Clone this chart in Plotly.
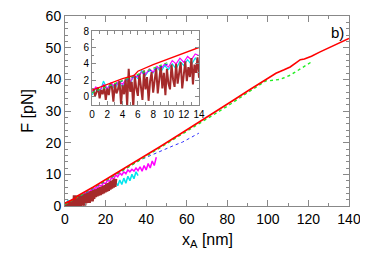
import plotly.graph_objects as go

# ---------------- data ----------------
red_x = [0, 2, 4, 5.5, 6, 8, 10, 12, 14, 20, 30, 37, 47, 57, 66, 75, 83, 91, 99,
         104, 108, 111, 114, 116, 118, 120, 121.5, 125.5, 130.5, 135.5, 140]
red_y = [0.8, 1.5, 2.2, 2.6, 3.1, 3.9, 4.6, 5.3, 6.0, 8.3, 12.2, 14.8, 18.8, 22.8, 26.4,
         30.1, 33.4, 36.7, 40.0, 41.9, 43.0, 43.9, 45.3, 46.2, 46.4, 46.8, 47.3, 48.6,
         50.1, 51.4, 52.9]

green_x = [0, 10, 20, 30, 40, 50, 60, 70, 80, 90, 99, 101, 103, 106, 108, 111, 113,
           116, 119, 121.5]
green_y = [0.5, 4.2, 8.0, 11.8, 15.7, 19.6, 23.5, 27.5, 31.5, 35.8, 39.5, 39.6, 39.7,
           40.0, 40.5, 41.3, 42.1, 43.4, 44.5, 45.5]

blue_x = [0, 10, 20, 30, 37, 42, 46, 50, 54, 58, 62, 64, 66]
blue_y = [0.5, 4.0, 7.9, 11.8, 14.5, 15.9, 17.0, 18.3, 19.2, 20.2, 21.6, 22.3, 23.0]

magenta_x = [0, 0.5, 1, 1.5, 2, 2.5, 3, 3.5, 4, 4.5, 5, 5.5, 6, 6.5, 7, 7.5, 8, 8.5,
             9, 9.5, 10, 10.5, 11, 11.5, 12, 12.5, 13, 13.5,
             14, 15, 16, 17, 18, 19, 20, 21, 22, 23, 24, 25, 26, 27, 28, 29, 30, 31,
             32, 33, 34, 35, 36, 37, 38, 39, 40, 41, 42, 43, 44, 45]
magenta_y = [0.5, 1.2, 0.7, 1.5, 1.0, 1.7, 1.2, 1.9, 1.5, 2.2, 1.8, 2.6, 2.4, 3.0, 2.7,
             3.4, 3.0, 3.7, 3.3, 4.0, 3.6, 4.4, 4.0, 4.7, 4.2, 4.9, 4.5, 5.2,
             5.0, 5.8, 5.6, 6.6, 6.3, 7.4, 7.0, 8.2, 7.8, 9.0, 8.5, 9.8, 9.2, 10.4, 9.8,
             10.8, 10.2, 11.4, 10.8, 11.6, 11.0, 12.0, 11.2, 12.4, 11.0, 12.8, 11.4, 13.4,
             12.0, 14.2, 12.8, 15.4]

cyan_x = [0, 0.5, 1, 1.5, 2, 2.5, 3, 3.5, 4, 4.5, 5, 5.5, 6, 6.5, 7, 7.5, 8, 8.5, 9,
          9.5, 10, 10.5, 11, 11.5, 12, 12.5, 13, 13.5,
          14, 15, 16, 17, 18, 19, 20, 21, 22, 23, 24, 25, 26, 27, 28, 29, 30, 31, 32,
          33, 34, 35, 36]
cyan_y = [0.2, 1.0, 0.4, 1.9, 0.9, 1.5, 1.0, 1.8, 1.2, 2.0, 1.6, 2.6, 2.2, 3.2, 2.6,
          3.3, 2.9, 3.6, 3.0, 3.8, 3.3, 4.0, 3.4, 4.3, 3.8, 4.5, 3.9, 4.7,
          4.2, 5.0, 4.6, 5.5, 5.0, 6.0, 5.4, 6.6, 5.8, 7.0, 6.2, 7.6, 6.4, 8.2, 6.8,
          8.8, 7.2, 9.4, 8.0, 10.0, 8.6, 10.8, 9.6]

brown_x = [0.2, 0.4, 0.6, 0.8, 1.0, 1.2, 1.4, 1.6, 1.8, 2.0,
           2.2, 2.4, 2.6, 2.8, 3.0, 3.2, 3.4, 3.6, 3.8, 4.0,
           4.2, 4.4, 4.6, 4.8, 5.0, 5.2, 5.4, 5.6, 5.8, 6.0,
           6.2, 6.4, 6.6, 6.8, 7.0, 7.2, 7.4, 7.6, 7.8, 8.0,
           8.2, 8.4, 8.6, 8.8, 9.0, 9.2, 9.4, 9.6, 9.8, 10.0,
           10.2, 10.4, 10.6, 10.8, 11.0, 11.2, 11.4, 11.6, 11.8, 12.0,
           12.2, 12.4, 12.6, 12.8, 13.0, 13.2, 13.4, 13.6, 13.8, 14.0,
           14.4, 14.8, 15.2, 15.6, 16.0, 16.4, 16.8, 17.2, 17.6, 18.0,
           18.4, 18.8, 19.2, 19.6, 20.0, 20.4, 20.8, 21.2, 21.6, 22.0,
           22.4, 22.8, 23.2, 23.6, 24.0, 24.4, 24.8]
brown_y = [0.9, 0.1, 0.6, 1.1, -0.2, 0.8, 0.3, 1.3, -0.4, 1.0,
           0.2, 1.5, 1.2, -0.6, 1.6, 0.4, 0.9, 1.9, -0.9, 1.4,
           0.3, 2.2, -1.1, 3.4, 0.6, 1.8, -1.3, 2.5, 1.0, 0.1,
           2.8, 1.4, -0.4, 3.2, 0.9, 2.4, -0.5, 1.9, 3.0, 0.5,
           2.2, 3.5, 0.4, 1.8, 3.8, 1.0, 2.9, 0.2, 3.4, 1.6,
           0.9, 3.9, 2.1, 1.2, 4.0, 1.6, 3.2, 4.2, 1.0, 2.8,
           4.3, 1.9, 3.6, 2.4, 4.7, 1.5, 3.9, 2.9, 4.8, 2.3,
           5.0, 2.8, 5.2, 3.1, 5.4, 3.3, 5.6, 3.5, 5.9, 3.8,
           6.1, 4.0, 6.4, 4.3, 6.6, 4.6, 7.0, 4.8, 7.2, 5.2,
           7.6, 5.5, 7.9, 5.8, 8.3, 6.1, 8.6]

main_xticks = [0, 20, 40, 60, 80, 100, 120, 140]
main_yticks = [0, 10, 20, 30, 40, 50, 60]
inset_xticks = [0, 2, 4, 6, 8, 10, 12, 14]
inset_yticks = [0, 2, 4, 6, 8]

# ---------------- figure ----------------
fig = go.Figure()

series = [
    (cyan_x, cyan_y, "#00e5ee", None),
    (magenta_x, magenta_y, "#ff00ff", None),
    (brown_x, brown_y, "#a52a2a", None),
    (blue_x, blue_y, "#2f2fff", "dot"),
    (green_x, green_y, "#22ee22", "dot"),
    (red_x, red_y, "#ff0000", None),
]
main_width = {"#a52a2a": 4.0, "#00e5ee": 1.5, "#ff00ff": 1.5, "#2f2fff": 1.0,
              "#22ee22": 1.4, "#ff0000": 1.6}
inset_width = {"#a52a2a": 2.0, "#00e5ee": 1.2, "#ff00ff": 1.2, "#2f2fff": 1.0,
               "#22ee22": 1.2, "#ff0000": 1.3}

for xs, ys, col, dash in series:
    fig.add_trace(go.Scatter(x=xs, y=ys, mode="lines",
                             line=dict(color=col, width=main_width[col], dash=dash),
                             xaxis="x", yaxis="y", showlegend=False))

for xs, ys, col, dash in series:
    px = [a for a in xs if a <= 14.3]
    py = [b for a, b in zip(xs, ys) if a <= 14.3]
    fig.add_trace(go.Scatter(x=px, y=py, mode="lines",
                             line=dict(color=col, width=inset_width[col], dash=dash),
                             xaxis="x2", yaxis="y2", showlegend=False))

axis_col = "#888888"
fam = "Liberation Sans, Arial, sans-serif"
font_main = dict(family=fam, size=14, color="black")
font_inset = dict(family=fam, size=10, color="black")

common = dict(ticks="inside", tickcolor=axis_col, showline=True, linecolor=axis_col,
              linewidth=1, mirror="ticks", showgrid=False, zeroline=False,
              automargin=False, ticklabeloverflow="allow")

# the page body keeps its default 8px margin, so the figure is sized to fit inside it
fig.update_layout(
    width=354, height=242,
    margin=dict(l=57, r=13, t=8, b=44, autoexpand=False),
    paper_bgcolor="white", plot_bgcolor="white",
    font=font_main,
    xaxis=dict(range=[0, 140], tickvals=main_xticks, ticklen=6, tickfont=font_main,
               minor=dict(dtick=10, ticks="inside", ticklen=3, tickcolor=axis_col),
               **common),
    yaxis=dict(range=[0, 60], tickvals=main_yticks, ticklen=6, tickfont=font_main,
               minor=dict(dtick=2, ticks="inside", ticklen=3, tickcolor=axis_col),
               **common),
    xaxis2=dict(domain=[0.095, 0.472], anchor="y2", range=[0, 14],
                tickvals=inset_xticks, ticklen=4, tickfont=font_inset,
                minor=dict(dtick=1, ticks="inside", ticklen=2.5, tickcolor=axis_col),
                **common),
    yaxis2=dict(domain=[0.532, 0.921], anchor="x2", range=[-1, 8],
                tickvals=inset_yticks, ticklen=4, tickfont=font_inset,
                minor=dict(dtick=1, ticks="inside", ticklen=2.5, tickcolor=axis_col),
                **common),
    annotations=[
        dict(text="b)", x=0.99, y=0.97, xref="paper", yref="paper",
             xanchor="right", yanchor="top", showarrow=False,
             font=dict(family=fam, size=15, color="black")),
        dict(text="x<sub>A</sub> [nm]", x=0.5, y=-0.18, xref="paper", yref="paper",
             xanchor="center", yanchor="middle", showarrow=False,
             font=dict(family=fam, size=16, color="black")),
        dict(text="F [pN]", x=-0.135, y=0.5, xref="paper", yref="paper",
             xanchor="center", yanchor="middle", showarrow=False, textangle=-90,
             font=dict(family=fam, size=16, color="black")),
    ],
)

fig.write_html("out.html")
